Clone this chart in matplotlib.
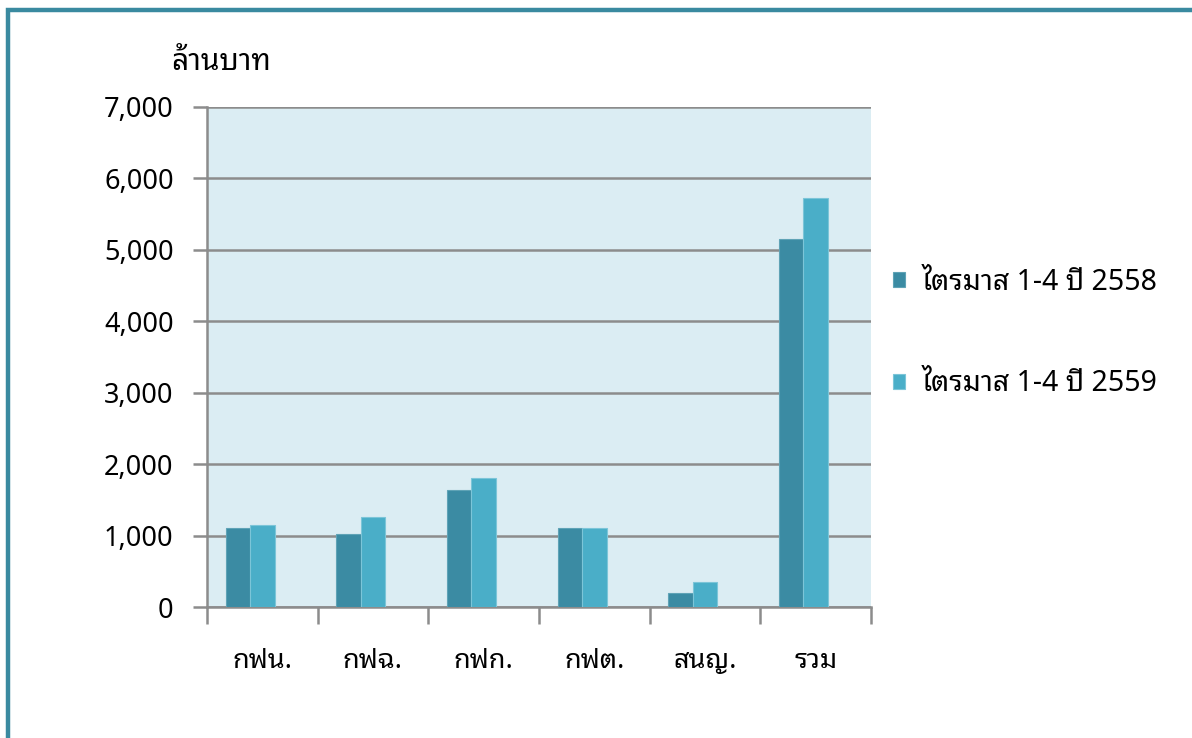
import matplotlib
matplotlib.use("Agg")
import numpy as np
import matplotlib.pyplot as plt
from matplotlib.patches import Rectangle

plt.rcParams['font.family'] = ['Noto Sans Thai Looped', 'DejaVu Sans']
plt.rcParams['font.weight'] = 'light'

# data (million baht)
categories = ['กฟน.', 'กฟฉ.', 'กฟก.', 'กฟต.', 'สนญ.', 'รวม']
y2558 = [1112, 1028, 1644, 1106, 201, 5154]
y2559 = [1144, 1266, 1800, 1106, 350, 5724]
series_labels = ['ไตรมาส 1-4 ปี 2558', 'ไตรมาส 1-4 ปี 2559']
yticks = [0, 1000, 2000, 3000, 4000, 5000, 6000, 7000]

dark = '#3b8ba3'
light = '#4aaec8'

fig = plt.figure(figsize=(11.92, 7.38), dpi=100)
ax = fig.add_axes([207 / 1192, 1 - 607 / 738, (871 - 207) / 1192, 500 / 738])
ax.set_facecolor('#dbedf3')

x = np.arange(len(categories))
w = 0.22
b1 = ax.bar(x - w, y2558, width=w, color=dark, edgecolor='#5fa3b6', linewidth=0.8,
            label=series_labels[0], zorder=3)
b2 = ax.bar(x, y2559, width=w, color=light, edgecolor='#7cc5d8', linewidth=0.8,
            label=series_labels[1], zorder=3)

ax.set_xlim(-0.5, len(categories) - 0.5)
ax.set_ylim(0, 7000)
ax.set_yticks(yticks)
ax.set_yticklabels([f'{v:,}' for v in yticks], fontsize=19.5)
ax.yaxis.grid(True, color='#8c8c8c', linewidth=1.8, zorder=1)
ax.set_axisbelow(True)

# category labels centred, ticks on the category boundaries
ax.set_xticks(x)
ax.set_xticklabels(categories, fontsize=19.5)
ax.tick_params(axis='x', length=0, pad=29)
ax.set_xticks(np.arange(-0.5, len(categories)), minor=True)
ax.tick_params(axis='x', which='minor', length=12, width=1.8, color='#8c8c8c')
ax.tick_params(axis='y', length=10, width=1.8, color='#8c8c8c', pad=14)

for s in ['top', 'right']:
    ax.spines[s].set_visible(False)
for s in ['left', 'bottom']:
    ax.spines[s].set_color('#8c8c8c')
    ax.spines[s].set_linewidth(1.8)

fig.text(171 / 1192, 1 - 63 / 738, 'ล้านบาท', fontsize=21.5, va='center', ha='left')

fig.legend(handles=[b1, b2], loc='center left', bbox_to_anchor=(867 / 1192, 1 - 333 / 738),
           frameon=False, fontsize=20.5, handlelength=0.42, handleheight=0.42,
           handletextpad=0.6, labelspacing=2.55)

# teal frame on the left and top edges
fig.patches.append(Rectangle((8 / 1192, -0.1), 1.2, 1 - 10 / 738 + 0.1, transform=fig.transFigure,
                             fill=False, edgecolor='#3a8aa0', linewidth=3.2))

fig.savefig('out.png', dpi=100)
